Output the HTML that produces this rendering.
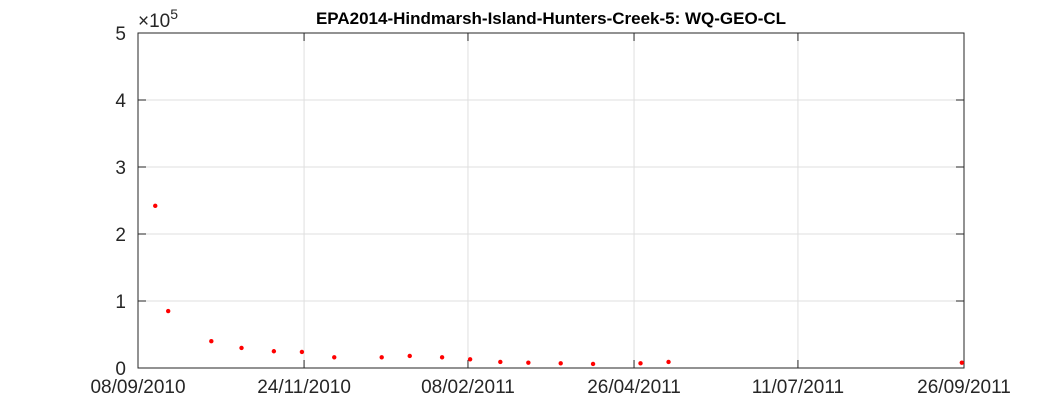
<!DOCTYPE html>
<html><head><meta charset="utf-8"><style>
body{margin:0;background:#fff;width:1063px;height:413px;overflow:hidden;font-family:"Liberation Sans",sans-serif}
</style></head><body>
<svg id="chart" width="1063" height="413" xmlns="http://www.w3.org/2000/svg"></svg>
<script>
const tickDays=[0,77,153,230,306,383];
const tickLabels=["08/09/2010","24/11/2010","08/02/2011","26/04/2011","11/07/2011","26/09/2011"];
const yTicks=[0,1,2,3,4,5];
const pointDays=[8,14,34,48,63,76,91,113,126,141,154,168,181,196,211,233,246,382];
const pointValues=[242000,85000,40000,30000,25000,24000,16000,16000,18000,16000,13000,9000,8000,7000,6000,7000,9000,8000];
const L=138,R=964,T=33,B=368;
const xs=d=>L+(d/383)*(R-L);
const ys=v=>B-(v/5e5)*(B-T);
const svg=document.getElementById('chart');
const NS='http://www.w3.org/2000/svg';
function mk(t,a,p){const e=document.createElementNS(NS,t);for(const k in a)e.setAttribute(k,a[k]);(p||svg).appendChild(e);return e;}
let bg=mk('rect',{x:L,y:T,width:R-L,height:B-T,fill:'#fff'});


tickDays.forEach((d,i)=>{
 const x=xs(d);
 let g=mk('line',{x1:x,x2:x,y1:T,y2:B,stroke:'#dfdfdf','stroke-width':1});
 
 
 mk('line',{x1:x,x2:x,y1:B,y2:B-8,stroke:'#262626'});
 mk('line',{x1:x,x2:x,y1:T,y2:T+8,stroke:'#262626'});
 let t=mk('text',{x:x,y:B+25,'text-anchor':'middle','font-size':19,fill:'#262626'});
 t.textContent=tickLabels[i];
 
 
});
yTicks.forEach(v=>{
 const y=ys(v*1e5);
 let g=mk('line',{x1:L,x2:R,y1:y,y2:y,stroke:'#dfdfdf'});
 
 
 mk('line',{x1:L,x2:L+8,y1:y,y2:y,stroke:'#262626'});
 mk('line',{x1:R,x2:R-8,y1:y,y2:y,stroke:'#262626'});
 let t=mk('text',{x:L-12,y:y+7,'text-anchor':'end','font-size':19,fill:'#262626'});
 t.textContent=v;
 
 
});
let box=mk('rect',{x:L,y:T,width:R-L,height:B-T,fill:'none',stroke:'#262626'});


let ex=mk('text',{x:L,y:T-6,'font-size':19,fill:'#262626'});
ex.innerHTML='×10<tspan dy="-8" font-size="14">5</tspan>';


let ti=mk('text',{x:(L+R)/2,y:24,'text-anchor':'middle','font-size':17,'font-weight':'bold',fill:'#000'});
ti.textContent='EPA2014-Hindmarsh-Island-Hunters-Creek-5: WQ-GEO-CL';


pointDays.forEach((d,i)=>{
 let c=mk('circle',{cx:xs(d),cy:ys(pointValues[i]),r:2.2,fill:'#ff0000'});
 
 
});
</script>
</body></html>
